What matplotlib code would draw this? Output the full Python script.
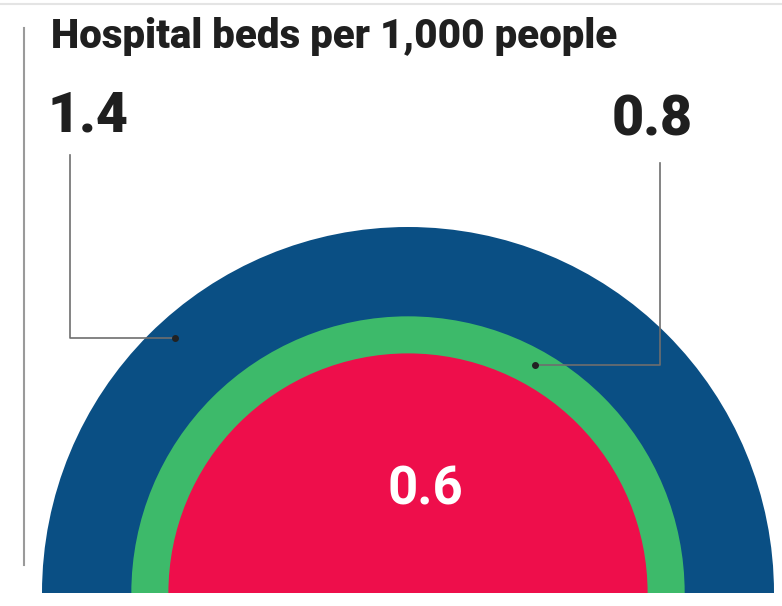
# Nested semicircles: hospital beds per 1,000 people (area proportional to value)

import numpy as np
import matplotlib.pyplot as plt
from matplotlib.patches import Wedge

values = [1.4, 0.8, 0.6]
labels = ['1.4', '0.8', '0.6']
colors = ['#0a4f84', '#3dba6a', '#ee0e4b']
title = 'Hospital beds per 1,000 people'

plt.rcParams['font.family'] = ['Roboto', 'DejaVu Sans']

fig = plt.figure(figsize=(7.82, 6.06), dpi=100)
ax = fig.add_axes([0, 0, 1, 1])
ax.set_xlim(0, 782)
ax.set_ylim(606, 0)
ax.axis('off')

# pixel layout
cx, cy = 408, 593
scale = 366 / np.sqrt(max(values))

for v, c in zip(values, colors):
    ax.add_patch(Wedge((cx, cy), scale * np.sqrt(v), 180, 360, color=c, lw=0))

# frame lines
ax.plot([24, 24], [28, 565], color='#9a9a9a', lw=1.5)
ax.plot([0, 782], [4, 4], color='#e4e4e4', lw=1.5)

ax.text(51, 37, title, fontsize=29, fontweight='black', color='#1f1f1f',
        va='center', ha='left')

# callouts: (label, label x, label y, elbow x, elbow y, dot angle deg, dot radius)
r_blue = scale * np.sqrt(values[0])
r_green = scale * np.sqrt(values[1])
r_red = scale * np.sqrt(values[2])
callouts = [
    (labels[0], 48, 116, 70, 155, 132.4, r_green + 0.77 * (r_blue - r_green)),
    (labels[1], 612, 120, 660, 163, 60.9, r_red + 0.57 * (r_green - r_red)),
]
for text, tx, ty, lx, ly, ang, rad in callouts:
    ax.text(tx, ty, text, fontsize=40, fontweight='black', color='#1f1f1f',
            va='center', ha='left')
    dx = cx + rad * np.cos(np.radians(ang))
    dy = cy - rad * np.sin(np.radians(ang))
    ax.plot([lx, lx, dx], [ly, dy, dy], color='#6e6e6e', lw=1.2)
    ax.plot(dx, dy, 'o', color='#222222', ms=4)

ax.text(425, 490, labels[2], fontsize=38, fontweight='bold', color='white',
        va='center', ha='center')

fig.savefig('out.png', dpi=100)
